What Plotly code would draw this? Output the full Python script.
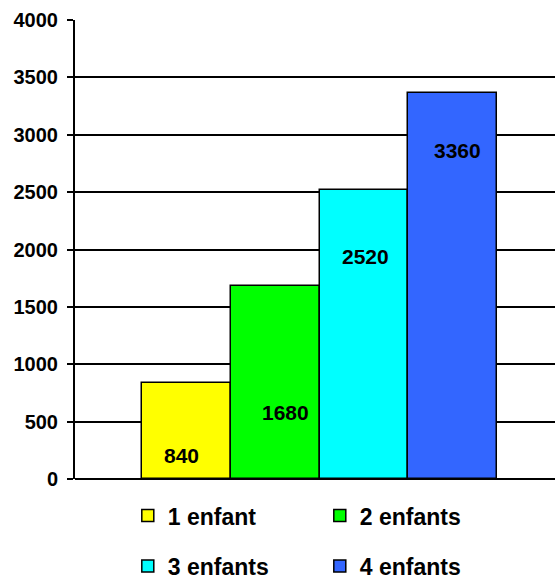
import plotly.graph_objects as go

categories = ["1 enfant", "2 enfants", "3 enfants", "4 enfants"]
values = [840, 1680, 2520, 3360]
colors = ["#FFFF00", "#00FF00", "#00FFFF", "#3366FF"]
# label placement inside each bar (pixels relative to bar top / centre)
label_dy = [-73, -126, -67, -57]
label_dx = [-5, 10, 2, 5]

FONT = "Liberation Sans, Arial, sans-serif"

fig = go.Figure()
for i, (name, v, c) in enumerate(zip(categories, values, colors)):
    fig.add_trace(go.Bar(
        x=[i], y=[v], width=1, name=name,
        marker=dict(color=c, line=dict(color="black", width=1.5)),
        legend="legend" if i < 2 else "legend2",
        hoverinfo="skip",
    ))
    fig.add_annotation(
        x=i, y=v, xref="x", yref="y", text=str(v),
        showarrow=False, yshift=label_dy[i], xshift=label_dx[i],
        font=dict(family=FONT, size=21, color="black", weight="bold"),
    )

legend_font = dict(family=FONT, size=23, color="black", weight="bold")

fig.update_layout(
    width=555, height=579,
    margin=dict(l=75, r=0, t=20, b=100, autoexpand=False),
    paper_bgcolor="white", plot_bgcolor="white",
    font=dict(family=FONT, color="black"),
    bargap=0,
    xaxis=dict(range=[-1.255, 4.153], showticklabels=False, showgrid=False,
               zeroline=False, showline=False, ticks=""),
    yaxis=dict(range=[0, 4000], dtick=500, showgrid=True, gridcolor="black",
               gridwidth=1.5, showline=True, linecolor="black", linewidth=2,
               ticks="outside", ticklen=6, tickcolor="black", tickwidth=1.5,
               zeroline=True, zerolinecolor="black", zerolinewidth=2,
               tickfont=dict(family=FONT, size=20, color="black", weight="bold"),
               ticklabelstandoff=5, tickformat="d"),
    legend=dict(orientation="h", x=0.11, y=-0.033, xanchor="left", yanchor="top",
                entrywidth=147, font=legend_font, itemwidth=30,
                bgcolor="rgba(0,0,0,0)"),
    legend2=dict(orientation="h", x=0.11, y=-0.143, xanchor="left", yanchor="top",
                 entrywidth=147, font=legend_font, itemwidth=30,
                 bgcolor="rgba(0,0,0,0)"),
)

fig.write_html("out.html")
